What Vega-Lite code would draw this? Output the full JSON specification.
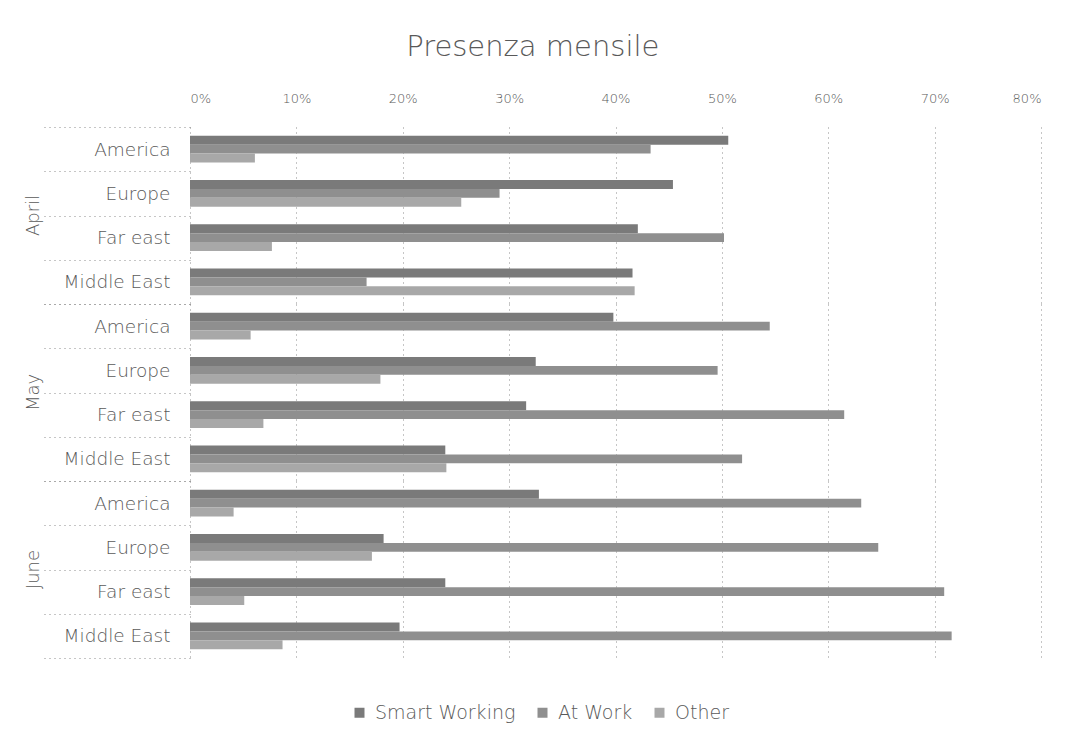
{
  "$schema": "https://vega.github.io/schema/vega-lite/v6.json",
  "padding": {"left": 24, "top": 33, "right": 5, "bottom": 5},
  "title": {"text": "Presenza mensile", "fontSize": 29, "font": "DejaVu Sans", "fontWeight": 300, "color": "#595959", "anchor": "middle", "offset": 30},
  "data": {"values": [
    {"month": "April", "region": "America", "series": "Smart Working", "value": 0.506},
    {"month": "April", "region": "America", "series": "At Work", "value": 0.433},
    {"month": "April", "region": "America", "series": "Other", "value": 0.061},
    {"month": "April", "region": "Europe", "series": "Smart Working", "value": 0.454},
    {"month": "April", "region": "Europe", "series": "At Work", "value": 0.291},
    {"month": "April", "region": "Europe", "series": "Other", "value": 0.255},
    {"month": "April", "region": "Far east", "series": "Smart Working", "value": 0.421},
    {"month": "April", "region": "Far east", "series": "At Work", "value": 0.502},
    {"month": "April", "region": "Far east", "series": "Other", "value": 0.077},
    {"month": "April", "region": "Middle East", "series": "Smart Working", "value": 0.416},
    {"month": "April", "region": "Middle East", "series": "At Work", "value": 0.166},
    {"month": "April", "region": "Middle East", "series": "Other", "value": 0.418},
    {"month": "May", "region": "America", "series": "Smart Working", "value": 0.398},
    {"month": "May", "region": "America", "series": "At Work", "value": 0.545},
    {"month": "May", "region": "America", "series": "Other", "value": 0.057},
    {"month": "May", "region": "Europe", "series": "Smart Working", "value": 0.325},
    {"month": "May", "region": "Europe", "series": "At Work", "value": 0.496},
    {"month": "May", "region": "Europe", "series": "Other", "value": 0.179},
    {"month": "May", "region": "Far east", "series": "Smart Working", "value": 0.316},
    {"month": "May", "region": "Far east", "series": "At Work", "value": 0.615},
    {"month": "May", "region": "Far east", "series": "Other", "value": 0.069},
    {"month": "May", "region": "Middle East", "series": "Smart Working", "value": 0.240},
    {"month": "May", "region": "Middle East", "series": "At Work", "value": 0.519},
    {"month": "May", "region": "Middle East", "series": "Other", "value": 0.241},
    {"month": "June", "region": "America", "series": "Smart Working", "value": 0.328},
    {"month": "June", "region": "America", "series": "At Work", "value": 0.631},
    {"month": "June", "region": "America", "series": "Other", "value": 0.041},
    {"month": "June", "region": "Europe", "series": "Smart Working", "value": 0.182},
    {"month": "June", "region": "Europe", "series": "At Work", "value": 0.647},
    {"month": "June", "region": "Europe", "series": "Other", "value": 0.171},
    {"month": "June", "region": "Far east", "series": "Smart Working", "value": 0.240},
    {"month": "June", "region": "Far east", "series": "At Work", "value": 0.709},
    {"month": "June", "region": "Far east", "series": "Other", "value": 0.051},
    {"month": "June", "region": "Middle East", "series": "Smart Working", "value": 0.197},
    {"month": "June", "region": "Middle East", "series": "At Work", "value": 0.716},
    {"month": "June", "region": "Middle East", "series": "Other", "value": 0.087}
  ]},
  "facet": {
    "row": {
      "field": "month", "type": "nominal", "sort": ["April", "May", "June"],
      "header": {"title": null, "labelAngle": -90, "labelOrient": "left", "labelAlign": "center", "labelFontSize": 18, "labelColor": "#595959", "labelFont": "DejaVu Sans", "labelFontWeight": 300, "labelPadding": -12}
    }
  },
  "spacing": 0,
  "spec": {
    "width": 851,
    "height": 177,
    "mark": {"type": "bar"},
    "encoding": {
      "y": {
        "field": "region", "type": "nominal",
        "sort": ["America", "Europe", "Far east", "Middle East"],
        "scale": {"paddingInner": 0, "paddingOuter": 0},
        "axis": {"title": null, "domain": false, "tickBand": "extent", "tickSize": 150, "tickDash": [1, 4], "tickColor": "#8c8c8c", "tickWidth": 1, "labelPadding": -130, "labelFontSize": 18.5, "labelColor": "#595959", "labelFont": "DejaVu Sans", "labelFontWeight": 300}
      },
      "yOffset": {"field": "series", "type": "nominal", "sort": ["Smart Working", "At Work", "Other"], "scale": {"paddingInner": 0, "paddingOuter": 1.13}},
      "x": {
        "field": "value", "type": "quantitative",
        "scale": {"domain": [0, 0.8], "nice": false},
        "axis": {"orient": "top", "format": ".0%", "values": [0, 0.1, 0.2, 0.3, 0.4, 0.5, 0.6, 0.7, 0.8], "title": null, "domain": false, "ticks": false, "gridDash": [1, 4], "gridColor": "#8c8c8c", "labelFontSize": 13, "labelColor": "#595959", "labelFont": "DejaVu Sans", "labelFontWeight": 300, "labelPadding": 22}
      },
      "color": {
        "field": "series", "type": "nominal",
        "scale": {"domain": ["Smart Working", "At Work", "Other"], "range": ["#7a7a7a", "#8f8f8f", "#a8a8a8"]},
        "legend": {"orient": "none", "legendX": 160, "legendY": 576, "direction": "horizontal", "title": null, "symbolType": "square", "symbolSize": 100, "labelFontSize": 19, "labelColor": "#595959", "labelFont": "DejaVu Sans", "labelFontWeight": 300, "columnPadding": 17, "labelOffset": 6}
      }
    }
  },
  "config": {"view": {"stroke": null}}
}
